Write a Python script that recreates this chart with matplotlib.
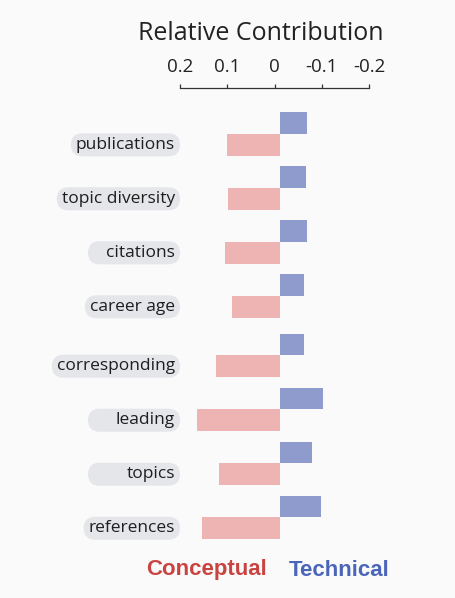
import matplotlib
matplotlib.use("Agg")
import matplotlib.pyplot as plt
from matplotlib.patches import FancyBboxPatch
from matplotlib.transforms import IdentityTransform, blended_transform_factory

# ---- data ----
features = ["publications", "topic diversity", "citations", "career age",
            "corresponding", "leading", "topics", "references"]
conceptual = [0.112, 0.108, 0.116, 0.100, 0.135, 0.175, 0.129, 0.165]
technical = [-0.059, -0.057, -0.059, -0.051, -0.051, -0.093, -0.068, -0.087]
tick_values = [0.2, 0.1, 0, -0.1, -0.2]
tick_labels = ["0.2", "0.1", "0", "-0.1", "-0.2"]
row_pos = [0, 1, 2, 3, 4.1, 5.1, 6.1, 7.1]

W, H = 455, 598
DPI = 100
BG = "#fafafa"
PINK = "#eeb4b4"
BLUE = "#8f9bcd"
RED_T = "#c94441"
BLUE_T = "#4b66b8"
PILL = "#e4e6ea"

fig = plt.figure(figsize=(W / DPI, H / DPI), dpi=DPI, facecolor=BG)


def px_rect(x0, x1, ytop, ybot):
    return [x0 / W, 1 - ybot / H, (x1 - x0) / W, (ybot - ytop) / H]


# scale axis (top)
sax = fig.add_axes(px_rect(180, 369, 88, 120))
sax.set_xlim(0.2, -0.2)
sax.set_ylim(0, 1)
sax.set_facecolor("none")
for s in ["left", "right", "bottom"]:
    sax.spines[s].set_visible(False)
sax.spines["top"].set_color("#333333")
sax.spines["top"].set_linewidth(0.9)
sax.xaxis.set_ticks_position("top")
sax.set_xticks(tick_values)
sax.set_xticklabels(tick_labels, fontsize=13.5, family="Open Sans", color="#222222")
sax.tick_params(axis="x", direction="out", length=2.6, width=0.9, color="#333333", pad=6)
sax.set_yticks([])

fig.text(261 / W, 1 - 39.5 / H, "Relative Contribution", ha="center", va="baseline",
         fontsize=18, family="Open Sans", color="#222222")

# bar axis
y_top_px, y_bot_px = 134 + 54 * (-0.5), 134 + 54 * 7.6
ax = fig.add_axes(px_rect(185, 374, y_top_px, y_bot_px))
ax.set_xlim(0.2, -0.2)
ax.set_ylim(7.6, -0.5)
ax.axis("off")

bh = 0.4
ax.barh([p + bh / 2 for p in row_pos], conceptual, height=bh, color=PINK, linewidth=0)
ax.barh([p - bh / 2 for p in row_pos], technical, height=bh, color=BLUE, linewidth=0)

tr = blended_transform_factory(fig.transFigure, ax.transData)
texts = []
for name, p in zip(features, row_pos):
    t = fig.text(175 / W, p + bh / 2, name, transform=tr, ha="right", va="center",
                 fontsize=12.5, family="Open Sans", color="#1e1e1e", zorder=5)
    texts.append(t)

fig.canvas.draw()
renderer = fig.canvas.get_renderer()
for t, p in zip(texts, row_pos):
    bb = t.get_window_extent(renderer)
    yc = ax.transData.transform((0, p + bh / 2))[1]
    h = 23
    right = 180
    left = min(bb.x0 - 5, right - 92)
    pill = FancyBboxPatch((left, yc - h / 2), right - left, h,
                          boxstyle="round,pad=0,rounding_size=%f" % (h / 2),
                          transform=IdentityTransform(), facecolor=PILL,
                          edgecolor="none", zorder=1)
    fig.add_artist(pill)

fig.text(146 / W, 1 - 570 / H, "Conceptual", ha="left", va="center", fontsize=16,
         fontweight="bold", family="Liberation Sans", color=RED_T)
fig.text(289 / W, 1 - 570 / H, "Technical", ha="left", va="center", fontsize=16,
         fontweight="bold", family="Liberation Sans", color=BLUE_T)

fig.savefig("out.png", dpi=DPI, facecolor=BG)
